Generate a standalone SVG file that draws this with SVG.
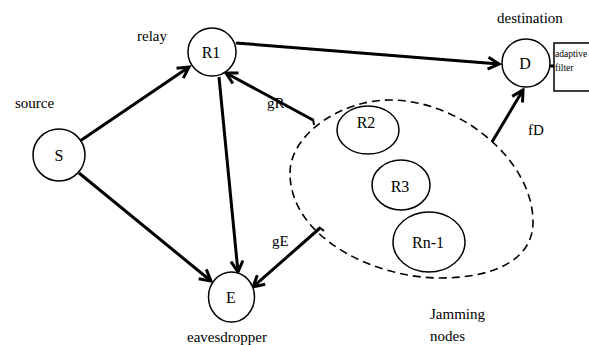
<svg xmlns="http://www.w3.org/2000/svg" width="589" height="345" viewBox="0 0 589 345">
  <style>
    text { font-family: "Liberation Serif", "DejaVu Serif", "Times New Roman", serif; fill: #000000; }
    .node { fill: #ffffff; stroke: #000000; stroke-width: 1.5; }
    .lbl { font-size: 15px; }
    .nlbl { font-size: 16px; text-anchor: middle; }
    .small { font-size: 9.5px; }
    .edge { fill: none; stroke: #000000; stroke-width: 3; }
    .tick { fill: none; stroke: #000000; stroke-width: 2; }
  </style>
  <defs>
    <marker id="arrow" viewBox="0 0 14 14" refX="12" refY="7" markerWidth="14" markerHeight="14" markerUnits="userSpaceOnUse" orient="auto" overflow="visible">
      <path d="M1,1 L12,7 L1,13" fill="none" stroke="#000000" stroke-width="3" stroke-linejoin="miter"/>
    </marker>
  </defs>
  <rect width="589" height="345" fill="#ffffff"/>

  <!-- connectors -->
  <g id="connectors">
    <line class="edge" x1="80" y1="141" x2="189" y2="67" marker-end="url(#arrow)"/>
    <line class="edge" x1="79" y1="173" x2="211" y2="281" marker-end="url(#arrow)"/>
    <line class="edge" x1="219" y1="77" x2="238" y2="272" marker-end="url(#arrow)"/>
    <line class="edge" x1="236" y1="43" x2="499" y2="64" marker-end="url(#arrow)"/>
    <line class="edge" x1="313" y1="120" x2="226" y2="73" marker-end="url(#arrow)"/>
    <line class="edge" x1="320" y1="228" x2="253" y2="287" marker-end="url(#arrow)"/>
    <line class="edge" x1="492" y1="142" x2="523" y2="90" marker-end="url(#arrow)"/>
    <line class="tick" x1="313" y1="119" x2="314" y2="125"/>
    <line class="tick" x1="319" y1="227" x2="324" y2="231"/>
    <line class="edge" x1="548" y1="66" x2="554" y2="66"/>
    <text class="lbl" x="267" y="108">gR</text>
    <text class="lbl" x="272" y="246">gE</text>
    <text class="lbl" x="528" y="135">fD</text>
  </g>

  <!-- source -->
  <g id="node-S">
    <circle class="node" cx="59" cy="155" r="26"/>
    <text class="nlbl" x="59" y="161">S</text>
    <text class="lbl" x="15" y="108">source</text>
  </g>

  <!-- relay -->
  <g id="node-R1">
    <circle class="node" cx="212" cy="52" r="24"/>
    <text class="nlbl" x="211" y="58">R1</text>
    <text class="lbl" x="137" y="41">relay</text>
  </g>

  <!-- destination with adaptive filter -->
  <g id="node-D">
    <circle class="node" cx="526" cy="63" r="24"/>
    <text class="nlbl" x="525" y="69">D</text>
    <text class="lbl" x="497" y="23">destination</text>
  </g>
  <g id="filter">
    <rect x="554" y="43" width="50" height="48" fill="#ffffff" stroke="#000000" stroke-width="1.5"/>
    <text class="small" x="555" y="57">adaptive</text>
    <text class="small" x="555" y="71">filter</text>
  </g>

  <!-- eavesdropper -->
  <g id="node-E">
    <ellipse class="node" cx="231.5" cy="297" rx="23" ry="25"/>
    <text class="nlbl" x="231" y="303">E</text>
    <text class="lbl" x="187" y="342">eavesdropper</text>
  </g>

  <!-- jamming nodes -->
  <g id="jammers">
    <path d="M290,173 C290,135 340,100 390,100 C460,100 533,160 533,222 C533,262 490,278 440,278 C375,278 290,238 290,173 Z" fill="none" stroke="#000000" stroke-width="1.6" stroke-dasharray="8 5"/>
    <text class="lbl" x="430" y="319">Jamming</text>
    <text class="lbl" x="430" y="341">nodes</text>
  </g>
  <g id="node-R2">
    <ellipse class="node" cx="368" cy="130" rx="31" ry="24"/>
    <text class="nlbl" x="366" y="128">R2</text>
  </g>
  <g id="node-R3">
    <ellipse class="node" cx="401" cy="185" rx="29" ry="25"/>
    <text class="nlbl" x="400" y="192">R3</text>
  </g>
  <g id="node-Rn-1">
    <ellipse class="node" cx="429" cy="242" rx="36" ry="30"/>
    <text class="nlbl" x="428" y="248">Rn-1</text>
  </g>
</svg>
